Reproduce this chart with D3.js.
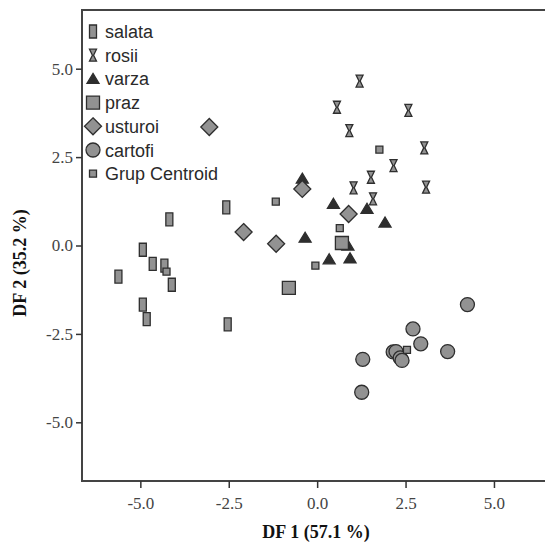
<!DOCTYPE html>
<html>
<head>
<meta charset="utf-8">
<script src="https://cdn.jsdelivr.net/npm/d3@7"></script>
<style>
  body { margin: 0; background: #fff; }
  svg { display: block; }
</style>
</head>
<body>
<div id="chart"></div>
<script>
// groups, in legend order
const groups = ['salata', 'rosii', 'varza', 'praz', 'usturoi', 'cartofi'];

// DF1 / DF2 scores
const salata = [[-2.57, 1.08], [-4.18, 0.74], [-4.93, -0.12], [-4.65, -0.52], [-4.32, -0.57],
    [-5.62, -0.88], [-4.11, -1.11], [-4.93, -1.67], [-4.82, -2.08], [-2.53, -2.23]];
const rosii = [[1.20, 4.65], [0.56, 3.91], [2.58, 3.82], [0.91, 3.25], [3.03, 2.76],
    [2.16, 2.26], [1.52, 1.93], [1.03, 1.63], [3.08, 1.65], [1.58, 1.32]];
const varza = [[-0.42, 1.89], [0.46, 1.18], [1.41, 1.04], [1.92, 0.65], [-0.34, 0.22],
    [0.87, 0.0], [0.34, -0.39], [0.93, -0.36]];
const praz = [[0.70, 0.07], [-0.80, -1.20]];
const usturoi = [[-3.05, 3.35], [-0.42, 1.60], [0.89, 0.89], [-2.08, 0.38], [-1.16, 0.05]];
const cartofi = [[4.25, -1.67], [2.71, -2.36], [2.93, -2.78], [3.69, -3.00], [2.15, -3.01],
    [2.23, -3.00], [2.35, -3.18], [2.40, -3.25], [1.29, -3.22], [1.26, -4.15]];
const centroids = [[-4.26, -0.74], [1.76, 2.71], [0.64, 0.49], [-0.05, -0.57], [-1.17, 1.24], [2.54, -2.95]];

const ticks = [-5, -2.5, 0, 2.5, 5];
const xTitle = 'DF 1 (57.1 %)';
const yTitle = 'DF 2 (35.2 %)';

const series = { salata, rosii, varza, praz, usturoi, cartofi };

const width = 545;
const height = 542;
const plotLeft = 82, plotTop = 10, plotBottom = 481, plotRight = 547;

const fill = '#929292';
const dark = '#2e2e2e';

// marker shapes
const shapes = {
    salata: 'M-3.5,-6.5H3.5V6.5H-3.5Z',
    rosii: 'M-3.5,-6H3.5L0.6,0L3.5,6H-3.5L-0.6,0Z',
    varza: 'M0,-5.5L6,4.5H-6Z',
    praz: 'M-6.5,-6.5H6.5V6.5H-6.5Z',
    usturoi: 'M0,-8.5L8.5,0L0,8.5L-8.5,0Z',
    cartofi: d3.symbol().type(d3.symbolCircle).size(Math.PI * 49)(),
    centroid: 'M-3.5,-3.5H3.5V3.5H-3.5Z'
};
const fills = { salata: fill, rosii: fill, varza: dark, praz: fill, usturoi: fill, cartofi: fill, centroid: fill };

const x = d3.scaleLinear().domain([-6.65, 6.5]).range([plotLeft, plotRight]);
const y = d3.scaleLinear().domain([-6.66, 6.66]).range([plotBottom, plotTop]);

const svg = d3.select('#chart')
    .append('svg')
    .attr('width', width)
    .attr('height', height);

// frame (right side runs off the picture)
svg.append('path')
    .attr('d', `M${plotRight + 10},${plotTop}H${plotLeft}V${plotBottom}H${plotRight + 10}`)
    .attr('fill', 'none')
    .attr('stroke', '#444')
    .attr('stroke-width', 2);

const xAxis = svg.append('g')
    .attr('transform', `translate(0,${plotBottom})`)
    .call(d3.axisBottom(x).tickValues(ticks).tickSize(7).tickPadding(9).tickFormat(d => d.toFixed(1)));
const yAxis = svg.append('g')
    .attr('transform', `translate(${plotLeft},0)`)
    .call(d3.axisLeft(y).tickValues(ticks).tickSize(6).tickPadding(3).tickFormat(d => d.toFixed(1)));

[xAxis, yAxis].forEach(g => {
    g.select('.domain').remove();
    g.selectAll('line').attr('stroke', '#333').attr('stroke-width', 1.5);
    g.selectAll('text')
        .attr('fill', '#444')
        .style('font-family', '"Liberation Serif", "Times New Roman", serif')
        .style('font-size', '17px');
});

svg.append('text')
    .attr('x', 316)
    .attr('y', 538)
    .attr('text-anchor', 'middle')
    .style('font-family', '"Liberation Serif", "Times New Roman", serif')
    .style('font-weight', 'bold')
    .style('font-size', '18px')
    .attr('fill', '#111')
    .text(xTitle);

svg.append('text')
    .attr('transform', 'translate(26,263) rotate(-90)')
    .attr('text-anchor', 'middle')
    .style('font-family', '"Liberation Serif", "Times New Roman", serif')
    .style('font-weight', 'bold')
    .style('font-size', '18px')
    .attr('fill', '#111')
    .text(yTitle);

// points
const plot = svg.append('g');
groups.forEach(name => {
    plot.selectAll(null)
        .data(series[name])
        .enter()
        .append('path')
        .attr('d', shapes[name])
        .attr('transform', d => `translate(${x(d[0])},${y(d[1])})`)
        .attr('fill', fills[name])
        .attr('stroke', dark)
        .attr('stroke-width', 1.3);
});
plot.selectAll(null)
    .data(centroids)
    .enter()
    .append('path')
    .attr('d', shapes.centroid)
    .attr('transform', d => `translate(${x(d[0])},${y(d[1])})`)
    .attr('fill', fill)
    .attr('stroke', dark)
    .attr('stroke-width', 1.3);

// legend
const legendItems = groups.concat(['Grup Centroid']);
const legend = svg.selectAll('.legend')
    .data(legendItems)
    .enter()
    .append('g')
    .attr('class', 'legend')
    .attr('transform', (d, i) => `translate(93,${31.5 + i * 23.7})`);

legend.append('path')
    .attr('d', d => shapes[d] || shapes.centroid)
    .attr('fill', d => fills[d] || fill)
    .attr('stroke', dark)
    .attr('stroke-width', 1.3);

legend.append('text')
    .attr('x', 12)
    .attr('y', 6.5)
    .style('font-family', '"Liberation Sans", Arial, sans-serif')
    .style('font-size', '18px')
    .attr('fill', '#2a2a2a')
    .text(d => d);
</script>
</body>
</html>
